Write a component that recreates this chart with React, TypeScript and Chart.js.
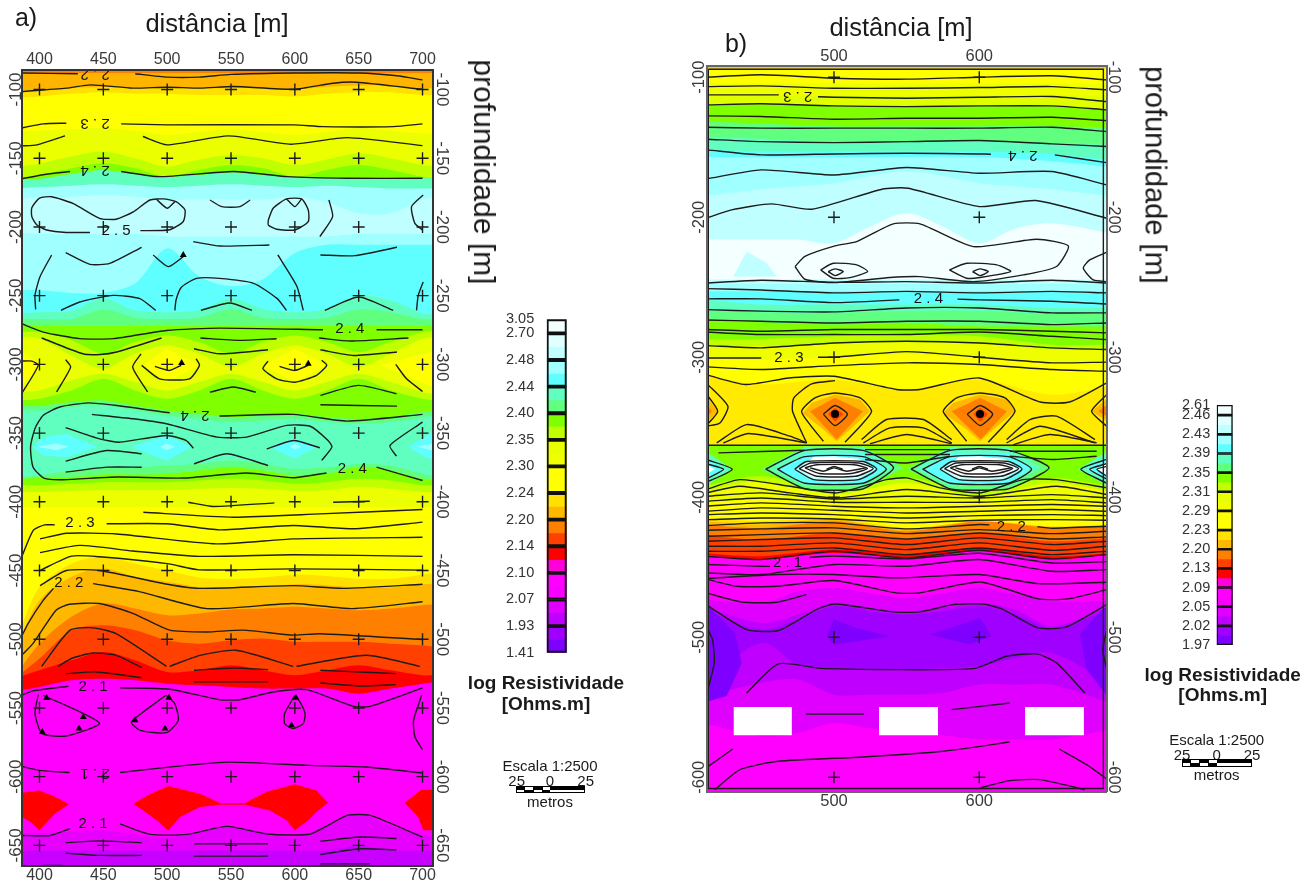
import React, { useEffect, useRef } from "react";
import { Chart, registerables } from "chart.js";
Chart.register(...registerables);

type P = [number, number];
const FONT = '"Liberation Sans", Arial, sans-serif';

// ---------- panel a ----------
const aXKnots = [384, 400, 425, 450, 475, 500, 525, 550, 575, 600, 625, 650, 675, 700, 710];
const aBandColors = ["#ff8000", "#ffb400", "#ffe000", "#ffff00", "#ecff00", "#c0ff00", "#80ff00", "#60ffc0", "#a0ffff", "#c0ffff", "#a0ffff", "#60ffff", "#60ffc0", "#60ff80", "#80ff00", "#c0ff00", "#ecff00", "#c0ff00", "#80ff00", "#60ff80", "#60ffc0", "#60ff80", "#80ff00", "#c0ff00", "#ecff00", "#ffff00", "#ffe000", "#ffb800", "#ff8000", "#ff4000", "#ff0000", "#ff00ff", "#e800ff", "#c800ff"];
const aBandDepths: number[][] = [
  [-88, -88, -88, -88, -88, -88, -88, -88, -88, -88, -88, -88, -88, -88, -88],
  [-101, -100, -99, -98, -98.5, -98.5, -99, -99, -99, -100, -98, -97, -97, -99, -99],
  [-106, -105, -103, -102, -103, -103, -104, -104, -104, -105, -103, -102, -102, -104, -104],
  [-130, -130, -129, -128, -130, -133, -131, -129, -131, -133, -131, -128, -130, -132, -132],
  [-156, -154, -148.8, -145.2, -150, -156, -151, -147.6, -150, -155, -151, -146.4, -150, -155, -156],
  [-164.6, -162, -157.3, -153.7, -157.3, -163.4, -158.5, -154.9, -157.3, -163.4, -158.5, -154.9, -158.5, -163.4, -164.6],
  [-165.3, -165, -161.4, -158.5, -161.4, -163.4, -162.2, -160.2, -162.2, -163.9, -164.6, -164.6, -164.6, -164.6, -164.6],
  [-172, -171, -170, -169, -170, -171, -170, -169, -170, -171, -170, -171, -172, -172, -172],
  [-180, -178, -178, -177, -178, -180, -180, -180, -180, -178, -182, -190, -190, -180, -178],
  [-204, -205, -205, -205, -205, -207, -207, -207, -207, -207, -207, -205, -205, -205, -205],
  [-246, -246, -248, -248, -241, -215.6, -236, -243, -238, -219, -213, -213, -213, -213, -213],
  [-263, -262, -261, -252, -260.7, -262, -260.7, -252, -259.5, -262, -259.5, -250, -253.4, -263, -263],
  [-267, -267, -267, -260, -266, -267, -266, -260, -266, -267, -266, -260, -262, -267, -267],
  [-271, -272, -272, -272, -272, -272, -272, -272, -272, -272, -272, -272, -272, -272, -272],
  [-276.5, -276.5, -282.5, -292.2, -283.7, -278.9, -283.7, -292.2, -283.7, -278.9, -283.7, -291, -283.7, -276.5, -275.3],
  [-280.1, -281.3, -293.5, -303.2, -292.2, -286.2, -292.2, -302, -292.2, -286.2, -292.2, -302, -292.2, -281.3, -280.1],
  [-320.2, -319, -311.7, -306.8, -312.9, -319, -312.9, -306.8, -312.9, -319, -312.9, -306.8, -312.9, -320.2, -321.4],
  [-326.2, -325, -319, -310.5, -319, -325, -319, -310.5, -319, -325, -319, -310.5, -319, -325, -326.2],
  [-329.9, -329.9, -327.5, -326.2, -329.9, -333.5, -336, -338.4, -337.2, -336, -338.4, -339.6, -338.4, -334.7, -333.5],
  [-333.5, -333.5, -331, -329.9, -333.5, -337.2, -339.6, -342, -340.8, -339.6, -342, -343.2, -342, -338.4, -337.2],
  [-382, -380.9, -377.2, -374.8, -374.8, -373.6, -372.4, -370, -372.4, -376, -374.8, -372.4, -373.6, -379.7, -380.9],
  [-383.3, -382.5, -382, -380.1, -380.1, -379.7, -377.2, -374.8, -377.2, -380.9, -379.7, -374.8, -377.2, -383.3, -384.5],
  [-388, -388, -386.9, -385.7, -385.7, -385.7, -384.5, -383.3, -384.5, -386.9, -385.7, -383.3, -384.5, -388, -388.5],
  [-392.8, -392.8, -392, -391.6, -391.6, -391.6, -390.5, -390, -390.5, -392, -391.6, -389, -390.5, -392.8, -393],
  [-404, -404, -404, -404, -404, -404, -404, -404, -404, -404, -404, -404, -404, -404, -404],
  [-495, -462, -445, -440, -445, -450, -455, -456, -455, -453, -454, -456, -456, -453, -452],
  [-503, -471.6, -454.6, -448.5, -454.6, -458.2, -461.9, -462.4, -461.9, -459.9, -460.7, -462.4, -462.4, -459.9, -459.5],
  [-522.6, -503.2, -483.7, -474, -477.6, -482.5, -481.3, -478.4, -477.6, -476.4, -477.6, -478.9, -477.6, -475.2, -474.5],
  [-526.2, -514, -493.4, -489.8, -493.4, -500.7, -503.2, -500.7, -499.5, -501.9, -501.9, -501.9, -503.2, -504.4, -505.6],
  [-527.4, -522.6, -515.3, -509.2, -515.3, -523.8, -522.6, -518.9, -522.6, -526.2, -522.6, -518.9, -522.6, -526.2, -526.2],
  [-537.1, -534.7, -529.9, -528.7, -529.9, -532.3, -533.5, -534.7, -535.9, -535.9, -535.9, -539.6, -535.9, -532.3, -531.1],
  [-641.6, -641, -640, -639.1, -642, -644, -640, -636.7, -640, -644, -635, -627, -636, -641.6, -644],
  [-653.7, -653.7, -653.7, -653.7, -653.7, -653.7, -653.7, -653.7, -653.7, -653.7, -653.7, -650, -653.7, -653.7, -653.7],
  [-680, -680, -680, -680, -680, -680, -680, -680, -680, -680, -680, -680, -680, -680, -680],
];
const aPolys: [string, P[]][] = [
  ["#ffff00", [[384, -290], [403, -300.7], [384, -317]]],
  ["#ffff00", [[481, -300.7], [499.5, -288.6], [525.7, -300.7], [499.5, -312.8]]],
  ["#ffff00", [[575, -300.7], [600, -288.6], [625, -300.7], [600, -312.8]]],
  ["#ffff00", [[666.6, -300.7], [710, -290], [710, -317]]],
  ["#60ffff", [[395, -360.2], [403, -353], [421, -350.5], [445, -360.2], [421, -367.5], [403, -366.3]]],
  ["#60ffff", [[472, -360.2], [499.5, -351.7], [519, -360.2], [499.5, -370]]],
  ["#60ffff", [[580.5, -360.2], [600, -354], [617, -360.2], [600, -368.7]]],
  ["#60ffff", [[689, -360.2], [710, -348], [710, -370], [699, -366]]],
  ["#a0ffff", [[398, -360], [413.4, -357.5], [422.6, -360], [413.4, -362.5]]],
  ["#a0ffff", [[494.6, -360], [499.5, -357.5], [506, -360], [499.5, -362.5]]],
  ["#a0ffff", [[596, -360], [600, -358], [605, -360], [600, -362]]],
  ["#a0ffff", [[696, -360], [710, -357], [710, -363]]],
  ["#ff0000", [[384, -612], [400, -610], [413, -615], [423, -620], [412, -627], [400, -639], [393, -633], [384, -628]]],
  ["#ff0000", [[473.4, -619.7], [487, -612.5], [500.9, -606.8], [525.7, -612.4], [541.3, -619.2], [560.9, -619.2], [577.9, -611], [600, -605.6], [617, -610], [626, -619], [617, -625.5], [610.6, -631.8], [600, -639], [593.5, -631.8], [580.5, -624.6], [560.9, -620.5], [541.3, -620.5], [525.7, -622.1], [510, -629.4], [500.9, -639.1], [491.7, -631.8], [481.3, -624.6]]],
  ["#ff0000", [[686, -619], [699, -609.5], [710, -609.5], [710, -639], [700.6, -639], [696.6, -629.4]]],
];
const aContours: P[][] = [
  [[386, -88], [430, -88.5]],
  [[475, -88.5], [500, -91], [525, -91], [550, -89], [600, -88], [650, -88], [680, -90], [700, -93]],
  [[386, -101.5], [421, -99], [440, -96.6], [473, -99], [500, -98.3], [526, -99], [552, -97.8], [599, -99.8], [630, -95.4], [648, -94.7], [700, -99.8]],
  [[386, -128], [403, -125], [421, -124.5]],
  [[464, -125], [500, -125.7], [599, -125.7], [622, -127], [677, -127], [700, -125]],
  [[386, -141], [398, -140.3], [420, -133.7]],
  [[481, -134.2], [500, -140.3], [548, -133.7], [597, -139.8], [641, -135], [700, -140.8]],
  [[386, -165], [403, -162], [424, -159.7]],
  [[464, -159.7], [494, -163.4], [552, -159.7], [594, -163.4], [641, -164.6], [700, -164.6]],
  [[479, -202.7], [502, -202], [512.6, -196], [514, -187.7], [507, -181.6], [497, -179.6], [486.5, -180.4], [473.5, -189], [460, -194.4], [447, -193.7], [426.5, -183], [409.5, -178], [400, -179], [394, -186], [394, -192.5], [398, -198.6], [405.6, -202.2], [421, -204], [439.5, -204]],
  [[491.7, -180], [500, -186.4], [506, -181.6]],
  [[533.5, -180.4], [542.7, -185.2], [557, -185.2], [565, -180.4]],
  [[579.2, -194.9], [583, -186.4], [593.5, -179.6], [605.3, -179.6], [610.5, -187.7], [610.5, -196.1], [600, -202.2], [585.7, -201.7], [579.2, -198.6], [579.2, -194.9]],
  [[593.5, -179.6], [600, -185.2], [605.3, -179.6]],
  [[626.7, -180.4], [629.6, -192.5], [619.6, -207]],
  [[700.5, -176.7], [691.4, -185.2], [694, -197.4], [700, -202.2]],
  [[520.4, -210.7], [541.3, -213.9], [580, -213.1]],
  [[420.5, -218.7], [439.5, -227.2], [455, -226.5], [480, -214.8]],
  [[489, -220.4], [500.9, -228.9], [512.6, -221.6]],
  [[620, -220.4], [647, -220.9], [680, -214.8]],
  [[409.5, -220.4], [400.4, -236.2], [396.5, -249.6], [397, -260]],
  [[506, -260.7], [507, -253], [511, -244], [523, -237.4], [541, -237.4], [567.7, -241], [586, -252], [593.5, -260.7]],
  [[586.7, -220.4], [601.5, -243], [606.6, -260.7]],
  [[700.5, -240], [696.6, -250], [695.3, -260.7]],
  [[416.8, -260.7], [431.6, -254.6], [457.7, -249.8], [478.6, -252.2], [491, -260.7]],
  [[526.4, -260.7], [549, -255.3], [566.4, -260.7]],
  [[623.5, -260.7], [650, -251], [677, -260.7]],
  [[386, -270.4], [403, -276.5], [431.6, -281.3], [457.7, -281.3], [499.5, -275.3], [541, -273.6], [622, -274.8]],
  [[664, -274.8], [700, -274.8]],
  [[401.7, -280.8], [434, -292.3], [447.4, -292.8], [460.4, -291], [495.6, -280.8]],
  [[526, -280.8], [556.7, -282.5], [585.7, -281.3]],
  [[619, -280.8], [643.6, -283], [689, -280.8]],
  [[521, -288.6], [541, -292.3], [579, -289.4]],
  [[620, -289.4], [646, -293.5], [680, -291]],
  [[386, -297.6], [394, -297.6], [399, -300.7], [386, -321.4]],
  [[420.5, -296.6], [424.4, -302], [413.4, -320]],
  [[479.5, -292.3], [473, -302], [484.7, -320]],
  [[480, -300.7], [494, -310.5], [517.5, -310.5], [525.3, -300.7], [522.7, -295.9]],
  [[490.4, -301.5], [502, -304.4], [511, -300.7]],
  [[533.5, -320.2], [551.8, -316.5], [569.5, -320.2]],
  [[579, -297.6], [575, -303.2], [585.7, -310.5], [600, -313], [617, -308], [625, -300.7], [621, -297]],
  [[588, -301.5], [600, -304.4], [610.5, -300.7]],
  [[620, -322.6], [649.7, -315.3], [679.6, -321.4]],
  [[679, -300], [687.5, -310.5], [700, -319.7]],
  [[620, -329.4], [680, -330.4]],
  [[502, -335.2], [460.4, -329.9], [438, -328], [416, -331], [403, -337], [396.5, -346.6], [393, -360], [395, -374.8], [404, -383], [418.7, -383.9], [460.4, -382], [512.6, -382.7], [562, -379], [598.7, -382.5], [624.8, -379]],
  [[664, -374.8], [700, -384.5]],
  [[541, -337.6], [598.7, -336.4], [640.7, -341.3], [700, -336.4]],
  [[441, -336.4], [473.5, -339.6], [499.5, -343.2], [539, -352.9], [562.3, -352.9], [593.6, -344.4], [612, -345], [626, -355.4], [629, -360.2], [621, -369.9]],
  [[420.5, -346], [447, -354.2], [463, -356.6], [499.5, -351.7], [515, -355.4], [520.5, -361]],
  [[578, -361.5], [599, -355.4], [619.6, -360.7]],
  [[420.5, -370.4], [452.6, -362.7], [480, -365]],
  [[420.5, -378.4], [452.6, -374.8], [480, -374.8]],
  [[521, -372.4], [546.8, -365], [579, -373.6]],
  [[700, -342], [674.5, -359], [679.6, -366.8]],
  [[516.5, -400.3], [536, -403.4], [584, -400.8]],
  [[630, -400.3], [658.7, -399.6]],
  [[481.3, -407.6], [551.8, -411.2], [619.6, -408.8], [700, -405.6]],
  [[386, -440.4], [395, -420.9], [404, -416.8], [412, -416.8]],
  [[452.6, -416], [499.5, -416], [541, -420.4], [598.7, -417.2], [645.6, -419.6], [700, -414.8]],
  [[400.4, -427], [421.3, -422.9], [460.4, -423.4], [538.7, -430.6], [598.7, -427], [700, -425.8]],
  [[400.4, -437], [431.6, -431.7], [473, -435.8], [525, -439.7], [598.7, -438.5], [700, -439.7]],
  [[400.4, -450], [425, -439.5], [447, -440], [500, -445], [525, -449.5], [598.7, -448.8], [700, -449.7]],
  [[400.4, -461], [421, -450], [447, -450], [499, -459.8], [525, -463], [599, -461], [638, -463], [700, -460]],
  [[386, -498], [391, -488.6], [403, -471.6], [411, -463]],
  [[442, -459.5], [479, -465.5], [531, -477.7], [598.7, -474], [645, -477.7], [700, -472.7]],
  [[386, -511.7], [395, -503], [413, -478.9], [423.5, -474.5], [447, -474], [473.5, -481.3], [502, -493.4], [531, -494.7], [559.6, -493.4], [598.7, -497], [619.6, -496], [700, -500.2]],
  [[401.7, -519.7], [423.9, -493.4], [442, -491.7], [460, -495.9], [499.5, -519.7]],
  [[502, -519.7], [525.7, -511.7], [554, -508], [598.7, -519.7]],
  [[601.3, -519.7], [656, -511.7], [697.9, -519.7]],
  [[414.7, -519.7], [425, -514], [442, -510], [460, -511.7], [480, -520.5]],
  [[420.5, -525], [445, -523.8], [480, -528]],
  [[521, -522.6], [551.8, -520.9], [579, -522.1]],
  [[521, -531], [579, -531]],
  [[620, -522.6], [651, -523.8], [679, -525]],
  [[620, -531.8], [651, -534], [679, -533]],
  [[386, -540.8], [395, -537.6], [422.6, -534.2]],
  [[463, -535.4], [502, -536.4], [541, -544], [557, -544], [583, -538.4], [609, -536.7], [646, -548.8], [659, -548.8], [700, -535.4]],
  [[399, -540.3], [396.5, -554.1], [402, -568.7], [421, -570.4], [447, -561], [403, -540.8]],
  [[499, -540.8], [472, -560.2], [479, -566.3], [499.5, -568], [508.7, -559], [506, -546.9], [499, -540.8]],
  [[600, -540.8], [592, -554.1], [592, -561.4], [598.7, -565], [606.5, -561.4], [608, -554.1], [604, -545.6], [600, -540.8]],
  [[699.3, -540.8], [693, -559], [694, -571], [700, -580.4]],
  [[386, -592.5], [400, -595.4], [423.5, -597]],
  [[463, -597], [507, -592.5], [549, -589.4], [611, -591.8], [656, -593], [700, -597.4]],
  [[386, -642.8], [408, -642.8], [423.5, -637.9]],
  [[463, -634.3], [486.8, -642], [515.5, -642], [546.8, -636.2], [578, -641.7], [612, -641.7], [641, -628.2], [659, -628.2], [700, -644]],
  [[420.5, -648], [447, -646.7], [480, -648]],
  [[420.5, -655.6], [447, -657.3], [480, -657.3]],
  [[521, -648.8], [579, -648.8]],
  [[521, -657.8], [579, -657.8]],
  [[620, -647], [651, -643.9], [679.6, -645]],
  [[620, -656.6], [651, -652.5], [679.6, -653.2]],
  [[620, -663.4], [659, -663.4]],
  [[403, -664.6], [418, -664.6]],
];
const aLabels: [number, number, string, number][] = [
  [443.5, -88.6, "2 . 2", 180], [443.5, -124.5, "2 . 3", 180], [443.5, -158.5, "2 . 4", 180],
  [460, -202.7, "2 . 5", 0], [643, -274.5, "2 . 4", 0], [521.7, -337.2, "2 . 4", 180],
  [645, -376, "2 . 4", 0], [431.7, -415.6, "2 . 3", 0], [423, -459, "2 . 2", 0],
  [442, -535, "2 . 1", 0], [443.5, -597.4, "2 . 1", 180], [442, -634, "2 . 1", 0],
];
const aArrows: P[] = [[512.6, -220.4], [511.3, -299], [610.5, -299.5], [405.6, -542.7], [434.3, -556.6], [431, -565], [402.2, -567.5], [474.8, -559], [501.4, -542.5], [498.3, -565], [600.8, -542.5], [597.4, -562.6]];
const aCrossX = [400, 450, 500, 550, 600, 650, 700];
const aCrossY = [-100, -150, -200, -250, -300, -350, -400, -450, -500, -550, -600, -650];

// ---------- panel b ----------
const bX7 = [410, 450, 500, 550, 600, 650, 690];
const bX11 = [410, 450, 475, 500, 525, 550, 575, 600, 625, 650, 690];
const bBandColors = ["#ffd000", "#ffff00", "#f0ff00", "#e0ff00", "#80ff00", "#60ff80", "#60ffc0", "#60ffff", "#a0ffff", "#c0ffff", "#f4ffff", "#c0ffff", "#a0ffff", "#60ffff", "#60ffc0", "#60ff80", "#80ff00", "#c0ff00", "#f0ff00", "#ffff00", "#ffea00", "#80ff00", "#c0ff00", "#f0ff00", "#ffff00", "#ffe000", "#ffb800", "#ff8000", "#ff4000", "#ff0000", "#ff00ff", "#e000ff", "#c000ff", "#a000ff", "#c000ff", "#e000ff", "#ff00ff"];
const bBandDepths: number[][] = [
  [-94, -94, -94, -94, -94, -94, -94],
  [-104.3, -104.3, -104.3, -104.3, -104.3, -104.3, -104.3],
  [-113, -113, -113, -113, -113, -113, -113],
  [-119.8, -119.5, -120.5, -121, -120.5, -120.5, -123],
  [-131.7, -133, -135, -135, -135, -135, -136],
  [-142.4, -144, -146, -146, -146, -147, -148.3],
  [-152, -153, -153, -153, -153, -155, -159],
  [-157, -157, -157, -157, -157, -160, -164],
  [-185, -180, -175.7, -167, -175.7, -180, -185],
  [-216, -216, -216, -218.6, -206.7, -197, -206.7, -218.6, -208, -204.3, -211.4],
  [-244.5, -244.5, -244.5, -244.5, -244.5, -244.5, -244.5],
  [-247.5, -247.5, -247.5, -247.5, -247.5, -247.5, -247.5],
  [-252.9, -252.9, -252.9, -252.9, -252.9, -252.9, -252.9],
  [-258.8, -262.4, -262.4, -262.4, -262.4, -264.8, -264.8],
  [-267, -268, -268.3, -267, -267, -269, -269],
  [-273, -275, -276.7, -275.5, -277.9, -278, -278],
  [-287.4, -287, -285, -283.8, -285, -291, -291],
  [-292.1, -292, -289.8, -288.6, -289.8, -294.5, -294.5],
  [-301, -302, -300, -298, -300, -303, -303],
  [-312.4, -319.5, -316, -323, -316, -326.7, -320.7],
  [-362.9, -362.9, -362.9, -362.9, -362.9, -362.9, -362.9],
  [-392.1, -385, -394.5, -386.2, -395.7, -386.2, -392.1],
  [-395.7, -388.6, -398, -389.8, -399.3, -389.8, -395.7],
  [-404, -402, -404, -404, -404, -403, -404],
  [-414.8, -417.1, -414.8, -421.9, -417.1, -420.7, -419.5],
  [-417, -419.5, -416, -423, -416.2, -421.3, -420.1],
  [-419.5, -421.9, -417.1, -424.3, -417.1, -421.9, -420.7],
  [-426.7, -430.2, -425.5, -430.2, -425.5, -431.4, -429],
  [-439.8, -442.1, -437.4, -441, -436.2, -442.1, -439.8],
  [-441, -444.5, -439.8, -443.3, -438.6, -444.5, -441],
  [-473.1, -475.5, -467.4, -464.8, -468.4, -472, -468.4, -464.8, -469.5, -474.3, -474.3],
  [-477.9, -489.8, -483.8, -475.5, -479, -481.4, -479, -475.5, -480.2, -492.1, -477.9],
  [-480.2, -494.5, -487.4, -477.9, -481.4, -483.8, -481.4, -477.9, -483.8, -493.3, -480.2],
  [-533.8, -504, -519.5, -523, -523, -523, -522, -520.7, -514.8, -511.2, -532.6],
  [-542.1, -532.6, -530.2, -541, -541, -541, -539.8, -533.8, -533.8, -533.8, -546.9],
  [-561.2, -570.7, -568.3, -561.2, -565, -568.3, -570, -573, -573, -573, -566],
  [-620, -620, -620, -620, -620, -620, -620],
];
const bPolys: [string, P[]][] = [
  ["#c0ffff", [[430.7, -242.4], [439.9, -224.5], [453.7, -232.9], [460.5, -242.4]]],
  ["#ffb800", [[478.4, -339.8], [484.6, -332.6], [500.7, -326.7], [517.9, -330.2], [524.8, -338.6], [511, -351.7], [501.8, -360], [492.7, -351.7]]],
  ["#ff8000", [[483.5, -338.6], [500.7, -329], [520, -338.6], [501.8, -358.8]]],
  ["#ff4000", [[496, -340.5], [500.7, -336], [506.5, -340.5], [500.7, -346]]],
  ["#ffb800", [[575.2, -339.8], [582, -332.6], [600.5, -326.7], [619, -330.2], [624.6, -338.6], [609.7, -351.7], [600.5, -360], [591.4, -351.7]]],
  ["#ff8000", [[581, -338.6], [600.5, -329], [619, -338.6], [601, -358.8]]],
  ["#ff4000", [[596, -340.5], [600.5, -336], [606, -340.5], [600.5, -346]]],
  ["#ffb800", [[410, -325.5], [420, -338.6], [410, -349.3]]],
  ["#ff8000", [[410, -331], [416, -338.6], [410, -346]]],
  ["#ffb800", [[677.3, -338.6], [690, -327.9], [690, -346.9]]],
  ["#ff8000", [[682, -338.6], [690, -332], [690, -344]]],
  ["#60ff80", [[450, -380], [480, -364], [520, -364], [548, -379], [520, -394.5], [480, -394.5]]],
  ["#60ffc0", [[456, -380], [480, -364], [520, -364], [542, -379], [520, -392], [480, -392]]],
  ["#60ffff", [[461, -380], [481, -369], [520, -369], [536, -379], [520, -390], [481, -390]]],
  ["#c0ffff", [[473, -380], [486, -372], [516, -372], [529, -380], [516, -387.4], [486, -387.4]]],
  ["#ffffff", [[477, -380], [486, -371], [500, -370.7], [518, -373], [526, -380], [515, -386], [500, -387], [486, -386]]],
  ["#60ff80", [[550, -380], [580, -364], [620, -364], [648, -379], [620, -394.5], [580, -394.5]]],
  ["#60ffc0", [[556, -380], [580, -364], [620, -364], [642, -379], [620, -392], [580, -392]]],
  ["#60ffff", [[561, -380], [581, -369], [620, -369], [636, -379], [620, -390], [581, -390]]],
  ["#c0ffff", [[573, -380], [586, -372], [616, -372], [629, -380], [616, -387.4], [586, -387.4]]],
  ["#ffffff", [[577, -380], [586, -371], [600, -370.7], [618, -373], [626, -380], [615, -386], [600, -387], [586, -386]]],
  ["#60ffc0", [[410, -366], [430, -380], [410, -393]]],
  ["#60ffff", [[410, -370], [424, -380], [410, -389]]],
  ["#ffffff", [[410, -375], [418, -380], [410, -385]]],
  ["#60ffc0", [[690, -366], [668, -380], [690, -393]]],
  ["#60ffff", [[690, -370], [674, -380], [690, -389]]],
  ["#ffffff", [[690, -375], [681, -380], [690, -385]]],
  ["#8000ff", [[410, -477.9], [414.8, -479], [431.9, -496.9], [436.5, -518.3], [426.2, -542], [410, -546.9]]],
  ["#8000ff", [[690, -476.7], [683, -481.4], [669.3, -498], [673.9, -523], [690, -544.5]]],
  ["#8000ff", [[495, -499.3], [500, -487.4], [515.6, -493.3], [538.5, -499.3], [515.6, -502.9], [500, -505.2]]],
  ["#8000ff", [[566, -498], [600.5, -486.2], [608.5, -499.3], [593.6, -505.2], [575, -500.5]]],
  ["#ffffff", [[431, -549.8], [471, -549.8], [471, -570], [431, -570]]],
  ["#ffffff", [[531, -549.8], [571.6, -549.8], [571.6, -570], [531, -570]]],
  ["#ffffff", [[631.5, -549.8], [672, -549.8], [672, -570], [631.5, -570]]],
];
const wave = (ys: number[]): P[] => bX7.map((x, i) => [Math.min(687.5, Math.max(412.5, x)), ys[i]] as P);
const bWaves: number[][] = [
  [-100, -98.3, -100.7, -101.4, -100, -99, -101.9],
  [-106.7, -106.2, -107.9, -107.9, -107.4, -106.7, -109],
  [-119.8, -119, -120.5, -121, -120.5, -120.5, -123.3],
  [-127.6, -128.1, -130, -129.3, -129.3, -128.6, -131],
  [-135.7, -136.4, -136.4, -136.4, -136.4, -135.7, -138.8],
  [-144.3, -146, -146.7, -146, -145.2, -147.6, -149.5],
  [-172.6, -166.2, -169.8, -164.5, -168.6, -167.4, -176.9],
  [-247, -245, -246.5, -246, -247, -245, -247],
  [-251, -252, -254, -253, -254, -253, -254],
  [-266, -267.1, -267.6, -264.8, -264.8, -268.3, -268.3],
  [-273.4, -274.3, -275.5, -274.3, -274.3, -276.7, -275.5],
  [-280.2, -281.4, -280.2, -280.2, -280.2, -281.4, -282.6],
  [-282, -283.8, -283.8, -283.8, -282, -285, -287.4],
  [-291.7, -293.3, -289.8, -288.6, -289.8, -293.3, -294.5],
  [-306.9, -308.8, -306, -304, -305.2, -308.8, -310],
  [-399.3, -396.9, -401.2, -399.3, -400.5, -398.1, -400.5],
  [-402.9, -400.5, -403.6, -403.6, -403.6, -401.7, -404],
  [-406.4, -404, -406.4, -407.6, -406.4, -405.2, -406.4],
  [-410, -407.6, -409.3, -411.2, -410, -408.8, -410],
  [-412.4, -411.2, -412.4, -414.8, -413.1, -412.4, -413.1],
  [-416, -414.8, -415.5, -418.3, -416.4, -416, -416.4],
  [-423.6, -422.6, -421.9, -426, -423.1, -426, -424.3],
  [-427.9, -426.7, -425.5, -429.8, -425.5, -429.8, -428.3],
  [-431.4, -430.2, -429, -433.8, -429, -433.8, -431.4],
  [-435, -435, -432.6, -437.4, -432.6, -437.9, -435],
  [-438.6, -438.6, -436.2, -441, -436.2, -441, -438.6],
  [-442.1, -444.5, -438.6, -443.3, -437.9, -444, -441],
  [-454, -455.2, -448, -449.3, -444.5, -452.9, -451.7],
];
const bContours: P[][] = [
  [[412.5, -112.6], [450, -112.6], [462, -112.6]],
  [[489, -114], [500, -114.3], [550, -115], [600, -114.3], [650, -113.8], [687.5, -117.4]],
  [[412.5, -151.9], [450, -155.5], [500, -154.8], [550, -154.3], [600, -154.8], [608, -155]],
  [[652, -155.5], [687.5, -161]],
  [[412, -200.7], [429.5, -194.8], [457, -190.5], [484.7, -194.3], [533, -180], [551, -179.3], [600, -192.4], [639, -188.1], [687.7, -200.7]],
  [[473.2, -235.2], [480, -228], [500.7, -220.5], [515.6, -217.4], [540.8, -204.8], [559.2, -204.8], [595.9, -221], [639.5, -215.7], [661.3, -220.5], [653.2, -235.2], [630.3, -241.2], [595.9, -246], [559.2, -242.4], [538.5, -243.1], [500.7, -246.7], [480, -244.3], [473.2, -235.2]],
  [[490.8, -237.6], [499.5, -232.9], [515.6, -234], [523.2, -238.8], [511, -243.1], [499.5, -243.6], [490.8, -237.6]],
  [[496, -238.8], [500.7, -236.9], [506.4, -238.8], [500.7, -241.7], [496, -238.8]],
  [[579.4, -237.6], [591.3, -232.9], [612, -234], [621.6, -238.8], [600.5, -243.1], [591.3, -243.6], [579.4, -237.6]],
  [[595.4, -238.8], [600.5, -236.9], [606.2, -238.8], [600.5, -241.7], [595.4, -238.8]],
  [[687.7, -225], [676, -230.5], [671.6, -236.4], [678.5, -244.8], [687.7, -246]],
  [[412.5, -258.3], [450, -258.3], [500, -261], [545, -259]],
  [[585, -258.5], [600, -259], [650, -260], [687.5, -262]],
  [[412.5, -300.5], [450, -300.5]],
  [[489, -300], [500, -300], [550, -296], [600, -300], [650, -304], [687.5, -303.5]],
  [[412, -312.4], [439, -319.5], [469, -314.8], [500, -313.6], [543, -323], [559, -323], [600, -314.8], [642, -332], [662, -332], [687.7, -318.3]],
  [[481.2, -361.2], [471.5, -338.6], [472.4, -329], [484.6, -319], [500.7, -316.7]],
  [[507.6, -360.7], [518, -349.3], [525.9, -338.6], [518, -329], [500.7, -325.5], [486.9, -329], [477.7, -338.6], [483.5, -348.1], [492.7, -360]],
  [[606.2, -360.7], [616.5, -349.3], [624.6, -338.6], [617.7, -329], [600.5, -325.5], [584.4, -329], [575.2, -338.6], [582.1, -348.1], [591.3, -360]],
  [[492.7, -340.7], [500.7, -334.5], [509.2, -340.7], [500.7, -348.8], [492.7, -340.7]],
  [[591.7, -340.7], [600.5, -334.5], [609.2, -340.7], [600.5, -348.8], [591.7, -340.7]],
  [[412, -318.3], [427, -335], [421.5, -346.9], [412, -349.3]],
  [[412, -326], [420, -338.6], [412, -349]],
  [[687.7, -326.7], [677.3, -338.6], [687.7, -349.3]],
  [[419.3, -361.2], [440, -348.1], [469.7, -356.4], [481.2, -361.2]],
  [[423.8, -361.2], [441, -354.5], [481, -361.2]],
  [[519, -358.8], [536.2, -344.5], [561.5, -344.5], [581, -358.8]],
  [[520.2, -361.2], [538.5, -350.5], [561.5, -350.5], [581, -361.2]],
  [[524.8, -361.7], [550, -355.2], [581, -361.7]],
  [[618.8, -358.8], [634.9, -344.5], [653.2, -342.1], [679.6, -358.8]],
  [[618.8, -361.2], [641.8, -349.3], [679.6, -361.2]],
  [[623.4, -362.4], [648.6, -355.2], [680.8, -361.2]],
  [[412, -362.9], [687.7, -362.9]],
  [[420.4, -368.3], [480, -366.4]],
  [[521.3, -366], [579.8, -366]],
  [[521.3, -369.5], [579.8, -369.5]],
  [[521.3, -373], [550, -375.5], [579.8, -370.7]],
  [[621, -367.1], [680.8, -367.1]],
  [[621, -370.7], [651, -373], [680.8, -370.7]],
  [[453, -380], [480, -366.5], [520, -366.5], [541, -379], [520, -394], [500, -395], [480, -394], [453, -380]],
  [[461, -380], [480, -371], [520, -371], [536, -380], [520, -390], [480, -390], [461, -380]],
  [[473, -380], [481, -374.5], [520, -374.5], [529.4, -380], [517, -387.4], [486, -387.4], [473, -380]],
  [[476, -379.5], [484, -375.5], [517, -375.5], [527, -379.5], [515, -385], [488, -385], [476, -379.5]],
  [[480, -379], [488, -376.8], [514, -376.8], [523, -379.5], [512, -383], [490, -383], [480, -379]],
  [[483.5, -379], [492.7, -381.4], [500, -379], [508.7, -381.4], [522, -379]],
  [[495, -380], [500, -378], [506, -380]],
  [[553, -380], [580, -366.5], [620, -366.5], [648, -379], [620, -394], [600, -395], [580, -394], [553, -380]],
  [[561, -380], [580, -371], [620, -371], [636, -380], [620, -390], [580, -390], [561, -380]],
  [[573, -380], [581, -374.5], [620, -374.5], [629.4, -380], [617, -387.4], [586, -387.4], [573, -380]],
  [[576, -379.5], [584, -375.5], [617, -375.5], [627, -379.5], [615, -385], [588, -385], [576, -379.5]],
  [[580, -379], [588, -376.8], [614, -376.8], [623, -379.5], [612, -383], [590, -383], [580, -379]],
  [[583.5, -379], [592.7, -381.4], [600, -379], [608.7, -381.4], [622, -379]],
  [[595, -380], [600, -378], [606, -380]],
  [[412, -373], [430, -380], [412, -389.5]],
  [[412, -376], [424, -380], [412, -387]],
  [[687.7, -373], [670, -380], [687.7, -390]],
  [[687.7, -376], [676, -380], [687.7, -387]],
  [[687.7, -378], [681, -380], [687.7, -385]],
  [[412, -394.5], [435, -387.4], [469.7, -392.1], [501.8, -396.9], [536, -387.4], [550, -386.2], [573, -393.3], [600.5, -396.9], [630, -387.4], [653, -387.4], [688, -393.3]],
  [[412, -396.9], [435, -392.1], [469.7, -396.9], [501.8, -400.5], [550, -394.5], [600.5, -399.3], [653, -392.1], [688, -398.1]],
  [[412, -420.2], [450, -418.3], [500, -418.3], [550, -422.6], [600, -419.5], [607, -419.7]],
  [[640, -421], [650, -422.1], [687.7, -420.7]],
  [[412, -448], [450, -449.3], [456, -449.4]],
  [[483, -443], [500, -442], [550, -444], [600, -440], [650, -447], [687.7, -446]],
  [[412, -458], [462, -455.2], [500, -455.2], [543, -457.6], [600, -455.2], [640.6, -461.7], [687.7, -460.7]],
  [[412, -458.3], [433, -463.6], [460.5, -463.6], [500, -459.5], [543, -468.3], [559, -468.3], [600.5, -460.5], [640.6, -472.6], [661, -472.6], [687.7, -466]],
  [[412, -468.3], [436.5, -474.8], [460.5, -475], [481, -469.5]],
  [[412, -476.7], [440, -494.5], [461.7, -495.2], [488, -480.2], [500.7, -476.2], [540.8, -481.9], [559, -481.9], [582, -476.7], [602.8, -476.2], [616.5, -480.2], [640.6, -493.3], [660, -492.6], [687.7, -476.7]],
  [[439.9, -539.8], [461.7, -519], [492.7, -522.4], [595.9, -522.4], [618.8, -513.6], [639.5, -511.9], [653.2, -518.3], [672.7, -539.8]],
  [[412, -492], [416.4, -501.7], [417.6, -518.3], [412, -542]],
  [[687.7, -494.5], [685, -508.8], [687.7, -523]],
  [[480.7, -554.8], [520.6, -554.8]],
  [[581, -551.7], [621, -547]],
  [[412, -593.3], [430.3, -579.8]],
  [[418, -608.8], [435.3, -594.5], [461.7, -588.6], [520.2, -585.5], [575.2, -581.4], [621, -574.8]],
  [[655, -579.8], [673.9, -591], [687.7, -601.2]],
  [[600.5, -607.6], [621, -602.4], [641.8, -601.7], [672.7, -608.8]],
];
const bInnerFrame: P[] = [[413.5, -94.3], [685.4, -94.3], [685.4, -608], [413.5, -608], [413.5, -94.3]];
const bLabels: [number, number, string, number][] = [
  [475, -113.5, "2 . 3", 180], [630, -156, "2 . 4", 180], [565, -258.5, "2 . 4", 0],
  [469, -300.5, "2 . 3", 0], [622, -421, "2 . 2", 0], [468, -447, "2 . 1", 0],
];
const bBlobs: P[] = [[500.7, -340.5], [600.5, -340.5]];
const bCrossX = [500, 600];
const bCrossY = [-100, -200, -300, -400, -500, -600];

// ---------- colour bars ----------
const barEdges = [12.53, 12, 11, 10, 9, 8, 7, 6, 5, 4, 3, 2, 1, 0];
const aBarLabels = ["3.05", "2.70", "2.48", "2.44", "2.40", "2.35", "2.30", "2.24", "2.20", "2.14", "2.10", "2.07", "1.93", "1.41"];
const bBarLabels = ["2.61", "2.46", "2.43", "2.39", "2.35", "2.31", "2.29", "2.23", "2.20", "2.13", "2.09", "2.05", "2.02", "1.97"];
const barColors: [string, string][] = [["#f2ffff", "#f2ffff"], ["#e0ffff", "#c0ffff"], ["#a0ffff", "#60ffff"], ["#60ffc0", "#60ff80"], ["#80ff00", "#c0ff00"], ["#e8ff00", "#f0ff00"], ["#ffff00", "#ffff00"], ["#ffe000", "#ffb800"], ["#ff8000", "#ff4000"], ["#ff0000", "#ff00d8"], ["#ff00ff", "#f800ff"], ["#e000ff", "#c000ff"], ["#a000ff", "#8000ff"]];

const contourDs = (pts: P[], tension = 0.2) => ({ data: pts.map(([x, y]) => ({ x, y })), showLine: true, borderColor: "#1c1c1c", borderWidth: 1.4, pointRadius: 0, tension, fill: false });
const bandDs = (color: string, xs: number[], ys: number[]) => ({ data: xs.map((x, i) => ({ x, y: ys[i] })), showLine: true, backgroundColor: color, borderWidth: 0, borderColor: color, pointRadius: 0, tension: 0.3, fill: "end" });
const polyDs = (color: string, pts: P[]) => ({ data: [...pts, pts[0]].map(([x, y]) => ({ x, y })), showLine: true, backgroundColor: color, borderWidth: 0, borderColor: color, pointRadius: 0, tension: 0, fill: "shape" });
const crossDs = (xs: number[], ys: number[]) => ({ data: ys.flatMap((y) => xs.map((x) => ({ x, y }))), showLine: false, pointStyle: "cross", pointRadius: 6, pointBorderWidth: 1.4, pointBorderColor: "#1c1c1c", pointBackgroundColor: "#1c1c1c" });
const dotDs = (pts: P[], style: string, r: number) => ({ data: pts.map(([x, y]) => ({ x, y })), showLine: false, pointStyle: style, pointRadius: r, pointBorderWidth: 0, pointBackgroundColor: "#000" });

const textPlugin = (labels: [number, number, string, number][]) => ({
  id: "contourText",
  afterDatasetsDraw(chart: any) {
    const { ctx, chartArea: a, scales } = chart;
    ctx.save();
    ctx.beginPath();
    ctx.rect(a.left, a.top, a.right - a.left, a.bottom - a.top);
    ctx.clip();
    ctx.font = `15px ${FONT}`;
    ctx.fillStyle = "#111";
    ctx.textAlign = "center";
    ctx.textBaseline = "middle";
    for (const [x, y, t, rot] of labels) {
      ctx.save();
      ctx.translate(scales.x.getPixelForValue(x), scales.y.getPixelForValue(y));
      ctx.rotate((rot * Math.PI) / 180);
      ctx.fillText(t, 0, 0);
      ctx.restore();
    }
    ctx.restore();
  },
});

type Cfg = { xr: P; yr: P; xStep: number; yStep: number; sizes: { l: number; r: number; t: number; b: number }; pads: { l: number; r: number; t: number; b: number }; font: number; yFont: number; borderColor: string; labels: [number, number, string, number][]; };

function mainChart(canvas: HTMLCanvasElement, datasets: any[], c: Cfg) {
  const n = datasets.length;
  datasets.forEach((d, i) => (d.order = n - i));
  const border = { display: true, color: c.borderColor, width: 2, z: 5 };
  const grid = { display: false, drawTicks: false };
  const color = "#3a3a3a";
  const font = { family: FONT, size: c.font };
  const yFont = { family: FONT, size: c.yFont };
  const xAxis = (position: string, size: number, padding: number) => ({
    type: "linear", position, min: c.xr[0], max: c.xr[1], border, grid,
    ticks: { stepSize: c.xStep, includeBounds: false, autoSkip: false, maxRotation: 0, color, font, padding, callback: (v: number) => String(v) },
    afterFit: (s: any) => { s.height = size; },
  });
  const yAxis = (position: string, size: number, padding: number, rot: number) => ({
    type: "linear", position, min: c.yr[0], max: c.yr[1], border, grid,
    ticks: { stepSize: c.yStep, includeBounds: false, autoSkip: false, minRotation: rot, maxRotation: rot, crossAlign: "center", color, font: yFont, padding, callback: (v: number) => String(v) },
    afterFit: (s: any) => { s.width = size; },
  });
  return new Chart(canvas, {
    type: "scatter",
    data: { datasets },
    plugins: [textPlugin(c.labels)],
    options: {
      animation: false, responsive: false, maintainAspectRatio: false,
      layout: { padding: 0, autoPadding: false },
      plugins: { legend: { display: false }, tooltip: { enabled: false }, title: { display: false } },
      scales: {
        x: xAxis("bottom", c.sizes.b, c.pads.b),
        x2: { ...xAxis("top", c.sizes.t, c.pads.t), axis: "x" },
        y: yAxis("left", c.sizes.l, c.pads.l, 90),
        y2: { ...yAxis("right", c.sizes.r, c.pads.r, -90), axis: "y" },
      },
    } as any,
  } as any);
}

function barChart(canvas: HTMLCanvasElement, labels: string[], opts: { top: number; bottom: number; left: number; right: number; bw: number; pad: number }) {
  const datasets: any[] = [];
  barColors.forEach((cols, i) => {
    const hi = barEdges[i], lo = barEdges[i + 1], mid = (hi + lo) / 2;
    datasets.push({ data: [[mid, hi]], backgroundColor: cols[0], borderWidth: 0, order: 5 });
    datasets.push({ data: [[lo, mid]], backgroundColor: cols[1], borderWidth: 0, order: 5 });
  });
  barColors.forEach((_, i) => {
    datasets.push({ data: [[barEdges[i + 1], barEdges[i]]], backgroundColor: "rgba(0,0,0,0)", borderColor: "#111", borderWidth: opts.bw, borderSkipped: false, order: 1 });
  });
  return new Chart(canvas, {
    type: "bar",
    data: { labels: ["log"], datasets },
    options: {
      animation: false, responsive: false, maintainAspectRatio: false,
      layout: { padding: { top: opts.top, bottom: opts.bottom, right: opts.right, left: 0 }, autoPadding: false },
      plugins: { legend: { display: false }, tooltip: { enabled: false } },
      scales: {
        x: { display: false, stacked: true, grid: { display: false } },
        y: {
          stacked: false, min: 0, max: barEdges[0], grid: { display: false, drawTicks: false }, border: { display: false },
          afterBuildTicks: (s: any) => { s.ticks = barEdges.map((value) => ({ value })); },
          afterFit: (s: any) => { s.width = opts.left; s.paddingTop = 0; s.paddingBottom = 0; },
          ticks: { autoSkip: false, color: "#333", font: { family: FONT, size: 14.5 }, padding: opts.pad, callback: (v: number) => labels[barEdges.indexOf(v)] },
        },
      },
      datasets: { bar: { barPercentage: 1, categoryPercentage: 1 } },
    } as any,
  } as any);
}

const Txt = ({ x, y, size, bold, rot, color, children }: any) => (
  <div style={{ position: "absolute", left: x, top: y, whiteSpace: "nowrap", fontFamily: FONT, fontSize: size, fontWeight: bold ? 700 : 400, color: color || "#1a1a1a", lineHeight: 1, transform: `translate(-50%,-50%)${rot ? ` rotate(${rot}deg)` : ""}` }}>{children}</div>
);

const ScaleBar = ({ left, top, width, height }: { left: number; top: number; width: number; height: number }) => {
  const half = width / 2;
  const cell = half / 4;
  const rowH = height / 2;
  const cells = [0, 1, 2, 3];
  return (
    <div style={{ position: "absolute", left, top, width, height, background: "#000" }}>
      {cells.map((i) => (
        <div key={i} style={{ position: "absolute", left: i * cell + 1, top: i % 2 ? 0.8 : rowH, width: cell - 1, height: rowH - 0.8, background: "#fff" }} />
      ))}
      <div style={{ position: "absolute", left: half, top: rowH, width: half - 1, height: rowH - 1, background: "#fff" }} />
    </div>
  );
};

export default function App() {
  const a = useRef<HTMLCanvasElement>(null);
  const b = useRef<HTMLCanvasElement>(null);
  const ca = useRef<HTMLCanvasElement>(null);
  const cb = useRef<HTMLCanvasElement>(null);
  useEffect(() => {
    const aDs: any[] = [];
    for (let i = aBandDepths.length - 1; i >= 0; i--) aDs.push(bandDs(aBandColors[i], aXKnots, aBandDepths[i]));
    aPolys.forEach(([c, p]) => aDs.push(polyDs(c, p)));
    aContours.forEach((p) => aDs.push(contourDs(p)));
    aDs.push(crossDs(aCrossX, aCrossY));
    aDs.push(dotDs(aArrows, "triangle", 4));
    const bDs: any[] = [];
    for (let i = bBandDepths.length - 1; i >= 0; i--) bDs.push(bandDs(bBandColors[i], bBandDepths[i].length === 11 ? bX11 : bX7, bBandDepths[i]));
    bPolys.forEach(([c, p]) => bDs.push(polyDs(c, p)));
    bWaves.forEach((w) => bDs.push(contourDs(wave(w))));
    bContours.forEach((p) => bDs.push(contourDs(p)));
    bDs.push(contourDs(bInnerFrame, 0));
    bDs.push(crossDs(bCrossX, bCrossY));
    bDs.push(dotDs(bBlobs, "circle", 4));
    const charts = [
      mainChart(a.current!, aDs, { xr: [386.3, 708.2], yr: [-665, -85.8], xStep: 50, yStep: 50, sizes: { l: 22, r: 37, t: 70, b: 16 }, pads: { l: -11, r: -8.5, t: 1, b: 0 }, font: 16, yFont: 17, borderColor: "#333", labels: aLabels }),
      mainChart(b.current!, bDs, { xr: [412.4, 687.7], yr: [-610.3, -92], xStep: 100, yStep: 100, sizes: { l: 16.7, r: 53.3, t: 66, b: 90.3 }, pads: { l: -9, r: -9.5, t: 0, b: 0 }, font: 16.5, yFont: 16.5, borderColor: "#666", labels: bLabels }),
      barChart(ca.current!, aBarLabels, { top: 9.3, bottom: 7.3, left: 46.7, right: 13.3, bw: 1.6, pad: 12.5 }),
      barChart(cb.current!, bBarLabels, { top: 15, bottom: 10, left: 36.7, right: 27.3, bw: 1, pad: 6.5 }),
    ];
    return () => charts.forEach((c) => c.destroy());
  }, []);
  const abs = (left: number, top: number, w: number, h: number): React.CSSProperties => ({ position: "absolute", left, top, width: w, height: h });
  return (
    <div style={{ position: "absolute", left: 0, top: 0, width: 1313, height: 882, background: "#fff", overflow: "hidden" }}>
      <canvas ref={a} width={470} height={882} style={abs(0, 0, 470, 882)} />
      <canvas ref={b} width={470} height={882} style={abs(690, 0, 470, 882)} />
      <canvas ref={ca} width={80} height={350} style={abs(500, 310, 80, 350)} />
      <canvas ref={cb} width={80} height={265} style={abs(1180, 390, 80, 265)} />
      <Txt x={26} y={17} size={25}>a)</Txt>
      <Txt x={217} y={24} size={25.5}>distância [m]</Txt>
      <Txt x={484} y={172} size={30} rot={90}>profundidade [m]</Txt>
      <Txt x={546} y={682} size={19} bold>log Resistividade</Txt>
      <Txt x={546} y={703} size={19} bold>[Ohms.m]</Txt>
      <Txt x={550} y={765} size={15}>Escala 1:2500</Txt>
      <Txt x={516.7} y={780} size={15}>25</Txt>
      <Txt x={550} y={780} size={15}>0</Txt>
      <Txt x={585.7} y={780} size={15}>25</Txt>
      <ScaleBar left={515.7} top={786} width={69.3} height={7.3} />
      <Txt x={550} y={801} size={15}>metros</Txt>
      <Txt x={736} y={43} size={25}>b)</Txt>
      <Txt x={901} y={28} size={25.5}>distância [m]</Txt>
      <Txt x={1155} y={175} size={29} rot={90}>profundidade [m]</Txt>
      <Txt x={1222.7} y={674} size={19} bold>log Resistividade</Txt>
      <Txt x={1222.7} y={694} size={19} bold>[Ohms.m]</Txt>
      <Txt x={1216.7} y={739} size={15}>Escala 1:2500</Txt>
      <Txt x={1182} y={754} size={15}>25</Txt>
      <Txt x={1216.7} y={754} size={15}>0</Txt>
      <Txt x={1252} y={754} size={15}>25</Txt>
      <ScaleBar left={1181.7} top={759.3} width={70} height={7.4} />
      <Txt x={1216.7} y={774} size={15}>metros</Txt>
    </div>
  );
}
